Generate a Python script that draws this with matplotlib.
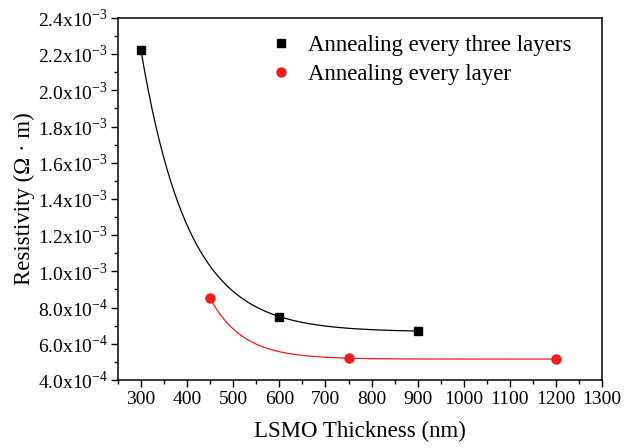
import matplotlib
matplotlib.use("Agg")
import matplotlib.pyplot as plt
import numpy as np
from matplotlib.ticker import MultipleLocator, FuncFormatter

plt.rcParams["font.family"] = "Liberation Serif"
plt.rcParams["mathtext.fontset"] = "custom"
plt.rcParams["mathtext.rm"] = "Liberation Serif"

# data
thick_three = [300, 600, 900]
res_three = [2.22e-3, 7.5e-4, 6.7e-4]
thick_every = [450, 750, 1200]
res_every = [8.5e-4, 5.2e-4, 5.15e-4]


def exp_fit(xs, ys):
    # y = y0 + A*exp(-x/t) through three points, t found by bisection
    x = np.asarray(xs, float)
    y = np.asarray(ys, float)

    def g(t):
        e = np.exp(-x / t)
        return (y[0] - y[1]) * (e[1] - e[2]) - (y[1] - y[2]) * (e[0] - e[1])

    lo, hi = 5.0, 5000.0
    for _ in range(200):
        mid = 0.5 * (lo + hi)
        if np.sign(g(mid)) == np.sign(g(lo)):
            lo = mid
        else:
            hi = mid
    t = 0.5 * (lo + hi)
    e = np.exp(-x / t)
    A = (y[0] - y[1]) / (e[0] - e[1])
    y0 = y[0] - A * e[0]
    return lambda q: y0 + A * np.exp(-q / t)


fig = plt.figure(figsize=(6.24, 4.48), dpi=100)
ax = fig.add_axes([0.189, 0.152, 0.776, 0.808])

f1 = exp_fit(thick_three, res_three)
xx = np.linspace(thick_three[0], thick_three[-1], 300)
ax.plot(xx, f1(xx), color="black", lw=0.9)
f2 = exp_fit(thick_every, res_every)
xx = np.linspace(thick_every[0], thick_every[-1], 300)
ax.plot(xx, f2(xx), color="#ee1c1c", lw=0.9)

ax.plot(thick_three, res_three, "s", color="black", ms=6, label="Annealing every three layers")
ax.plot(thick_every, res_every, "o", color="#ee1c1c", ms=6.5, label="Annealing every layer")

ax.set_xlim(250, 1300)
ax.set_ylim(4.0e-4, 2.4e-3)
ax.xaxis.set_major_locator(MultipleLocator(100))
ax.xaxis.set_minor_locator(MultipleLocator(50))
ax.yaxis.set_major_locator(MultipleLocator(2e-4))
ax.yaxis.set_minor_locator(MultipleLocator(1e-4))


def yfmt(v, pos):
    exp = int(np.floor(np.log10(v) + 1e-9))
    mant = v / 10 ** exp
    return r"%.1fx10$^{\mathregular{%d}}$" % (mant, exp)


ax.yaxis.set_major_formatter(FuncFormatter(yfmt))
ax.tick_params(which="major", direction="out", length=5, width=1, labelsize=14, pad=3)
ax.tick_params(axis="y", which="major", pad=2)
ax.tick_params(which="minor", direction="out", length=3, width=1)
for s in ax.spines.values():
    s.set_linewidth(1.1)

ax.set_xlabel("LSMO Thickness (nm)", fontsize=16.5, labelpad=9)
ax.set_ylabel("Resistivity (\u03a9 \u00b7 m)", fontsize=16.5, labelpad=2)

ax.legend(loc="upper left", frameon=False, fontsize=16.5, handletextpad=0.55,
          borderaxespad=0.0, bbox_to_anchor=(0.29, 0.978), labelspacing=0.34,
          handlelength=1.2)

fig.savefig("out.png", dpi=100)
